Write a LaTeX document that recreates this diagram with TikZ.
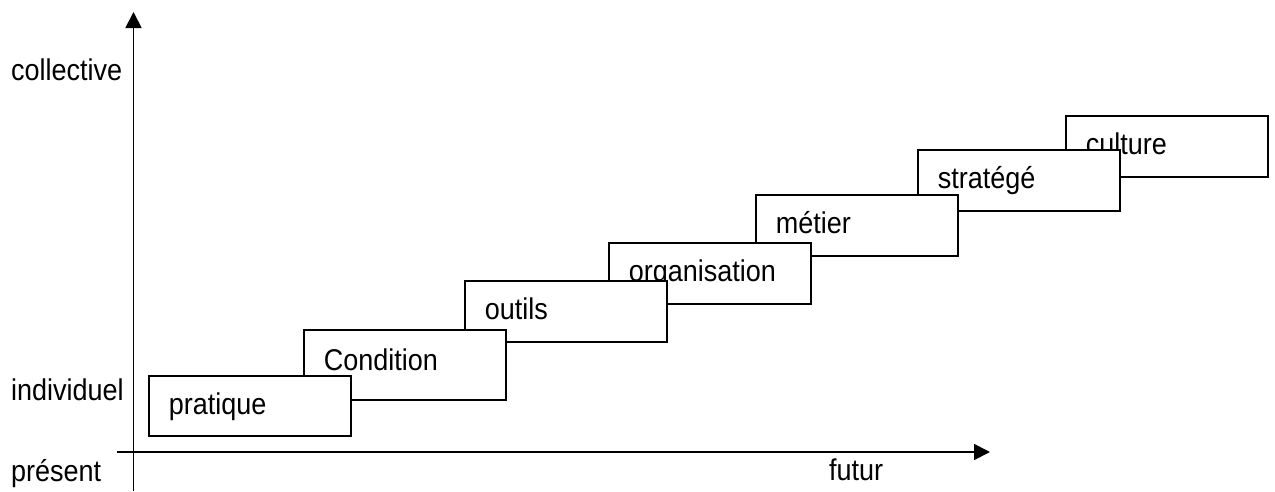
\documentclass[tikz,border=0pt]{standalone}
\usepackage{fontspec}
\setmainfont{Liberation Sans}[FakeStretch=0.9]
\usetikzlibrary{arrows.meta}
\begin{document}
\begin{tikzpicture}[x=1pt,y=-1pt,
  every node/.style={font=\fontsize{30}{33}\selectfont},
  stepbox/.style={draw, line width=1.8pt, fill=white, rectangle, anchor=north west,
    text width=162pt, inner xsep=20pt, inner ysep=0pt, align=left,
    text height=22.6pt, text depth=6pt, minimum height=61pt},
  axis/.style={line width=1.8pt, -{Triangle[length=16pt,width=16pt]}},
  lab/.style={anchor=base west, inner sep=0pt}]
\useasboundingbox (0,0) rectangle (1275,491);
% boxes, back to front
\node[stepbox] (culture) at (1065,115) {culture};
\node[stepbox] (strategie) at (917,149) {stratégé};
\node[stepbox] (metier) at (755,194) {métier};
\node[stepbox] (organisation) at (608,242) {organisation};
\node[stepbox] (outils) at (464,280) {outils};
\node[stepbox, minimum height=70pt, text depth=11pt] (condition) at (303,329) {Condition};
\node[stepbox, minimum height=60pt] (pratique) at (148,375) {pratique};
% axes
\coordinate (vbot) at (133.5,491);
\coordinate (vtop) at (133.5,12);
\coordinate (hleft) at (117,452);
\coordinate (hright) at (990,452);
\draw[axis] (vbot) -- (vtop);
\draw[axis] (hleft) -- (hright);
% labels
\node[lab] (collective) at (11,80) {collective};
\node[lab] (individuel) at (11,400) {individuel};
\node[lab] (present) at (11,481) {présent};
\node[lab] (futur) at (829,480) {futur};
\end{tikzpicture}
\end{document}
